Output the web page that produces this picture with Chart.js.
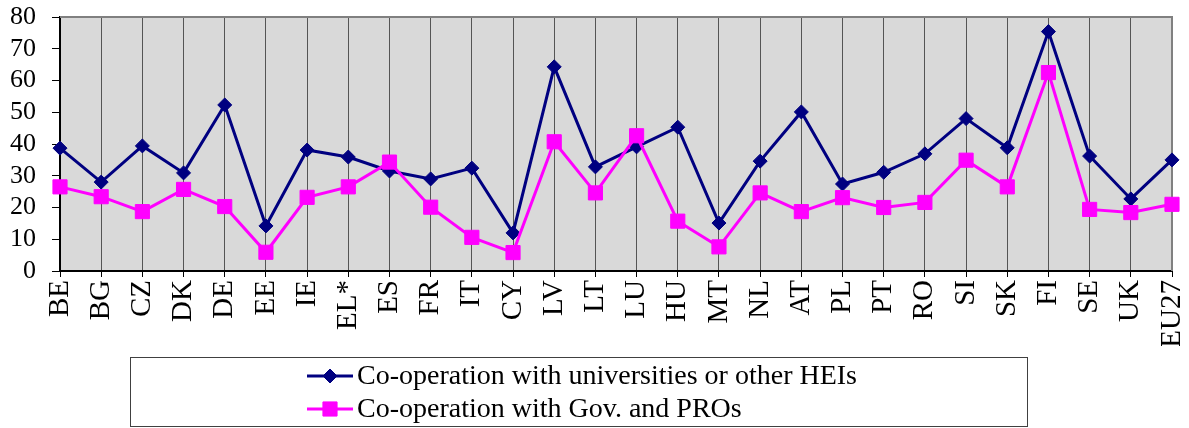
<!DOCTYPE html>
<html>
<head>
<meta charset="utf-8">
<script src="https://cdn.jsdelivr.net/npm/chart.js@4.4.1/dist/chart.umd.min.js"></script>
<style>
  html, body { margin: 0; padding: 0; background: #fff; }
  #wrap { width: 1189px; height: 428px; }
</style>
</head>
<body>
<div id="wrap"><canvas id="coopChart"></canvas></div>
<script>
// countries on the x axis
const countries = ['BE', 'BG', 'CZ', 'DK', 'DE', 'EE', 'IE', 'EL*', 'ES', 'FR', 'IT', 'CY', 'LV', 'LT',
    'LU', 'HU', 'MT', 'NL', 'AT', 'PL', 'PT', 'RO', 'SI', 'SK', 'FI', 'SE', 'UK', 'EU27'];

// % of enterprises co-operating
const universitiesHEI = [38.7, 28.0, 39.4, 30.9, 52.3, 14.2, 38.1, 35.9, 31.5, 29.0, 32.4, 12.0, 64.3, 32.8,
    39.1, 45.3, 15.1, 34.6, 50.1, 27.4, 31.1, 36.9, 48.0, 38.8, 75.4, 36.2, 22.7, 35.0];
const govPROs = [26.5, 23.4, 18.7, 25.7, 20.3, 5.9, 23.2, 26.5, 34.3, 20.1, 10.6, 5.8, 40.7, 24.6,
    42.6, 15.7, 7.6, 24.6, 18.7, 23.1, 20.0, 21.6, 34.9, 26.5, 62.5, 19.4, 18.4, 21.0];

const yTicks = [0, 10, 20, 30, 40, 50, 60, 70, 80];

const FONT = 'Liberation Serif';

// grey plot area + top/right frame
const plotFrame = {
    id: 'plotFrame',
    beforeDraw(chart) {
        const { ctx, chartArea: a } = chart;
        ctx.save();
        ctx.fillStyle = '#D9D9D9';
        ctx.fillRect(a.left, a.top, a.right - a.left, a.bottom - a.top);
        ctx.restore();
    },
    beforeDatasetsDraw(chart) {
        const { ctx, chartArea: a } = chart;
        ctx.save();
        ctx.strokeStyle = '#808080';
        ctx.lineWidth = 2;
        ctx.beginPath();
        ctx.moveTo(a.left, a.top);
        ctx.lineTo(a.right, a.top);
        ctx.lineTo(a.right, a.bottom);
        ctx.stroke();
        ctx.restore();
    }
};

// boxed legend with line + marker samples, one series per row
const boxLegend = {
    id: 'boxLegend',
    afterDraw(chart) {
        const ctx = chart.ctx;
        const box = { x: 130.5, y: 357.5, w: 897, h: 69 };
        ctx.save();
        ctx.strokeStyle = '#404040';
        ctx.lineWidth = 1;
        ctx.strokeRect(box.x, box.y, box.w, box.h);
        ctx.font = '28px "' + FONT + '"';
        ctx.textBaseline = 'middle';
        const rows = [376, 409];
        chart.data.datasets.forEach((ds, i) => {
            const y = rows[i];
            ctx.strokeStyle = ds.borderColor;
            ctx.lineWidth = 3;
            ctx.beginPath();
            ctx.moveTo(307, y);
            ctx.lineTo(353, y);
            ctx.stroke();
            ctx.fillStyle = ds.pointBackgroundColor;
            ctx.strokeStyle = ds.pointBorderColor;
            ctx.lineWidth = 1;
            Chart.helpers.drawPoint(ctx, {
                pointStyle: ds.pointStyle,
                radius: ds.pointRadius,
                borderWidth: 1,
                rotation: 0
            }, 330, y);
            ctx.fillStyle = '#000';
            ctx.fillText(ds.label, 357, y + 1);
        });
        ctx.restore();
    }
};

new Chart(document.getElementById('coopChart'), {
    type: 'line',
    data: {
        labels: countries,
        datasets: [{
            label: 'Co-operation with universities or other HEIs',
            data: universitiesHEI,
            borderColor: '#000080',
            borderWidth: 3,
            pointStyle: 'rectRot',
            pointRadius: 7,
            pointBackgroundColor: '#000080',
            pointBorderColor: '#000080',
            pointBorderWidth: 1,
            tension: 0,
            clip: false,
            order: 1
        }, {
            label: 'Co-operation with Gov. and PROs',
            data: govPROs,
            borderColor: '#FF00FF',
            borderWidth: 3,
            pointStyle: 'rect',
            pointRadius: 10,
            pointBackgroundColor: '#FF00FF',
            pointBorderColor: '#FF00FF',
            pointBorderWidth: 1,
            tension: 0,
            clip: false,
            order: 0
        }]
    },
    options: {
        responsive: true,
        maintainAspectRatio: false,
        animation: false,
        layout: { padding: { top: 17, right: 17, bottom: 82, left: 0 } },
        plugins: {
            legend: { display: false },
            tooltip: { enabled: false }
        },
        scales: {
            x: {
                offset: false,
                afterFit: scale => {
                    scale.height = 75;
                    scale.paddingLeft = 0;
                    scale.paddingRight = 0;
                },
                grid: {
                    color: '#555555',
                    lineWidth: 1,
                    tickLength: 6,
                    tickColor: '#000'
                },
                border: { color: '#000', width: 2 },
                ticks: {
                    color: '#000',
                    font: { family: FONT, size: 29 },
                    minRotation: 90,
                    maxRotation: 90,
                    autoSkip: false,
                    padding: 3
                }
            },
            y: {
                min: 0,
                max: 80,
                afterFit: scale => {
                    scale.width = 60;
                    scale.paddingTop = 0;
                    scale.paddingBottom = 0;
                },
                afterBuildTicks: scale => { scale.ticks = yTicks.map(v => ({ value: v })); },
                grid: {
                    drawOnChartArea: false,
                    tickLength: 8,
                    tickColor: '#000'
                },
                border: { color: '#000', width: 2 },
                ticks: {
                    color: '#000',
                    autoSkip: false,
                    font: { family: FONT, size: 26 },
                    padding: 16
                }
            }
        }
    },
    plugins: [plotFrame, boxLegend]
});
</script>
</body>
</html>
